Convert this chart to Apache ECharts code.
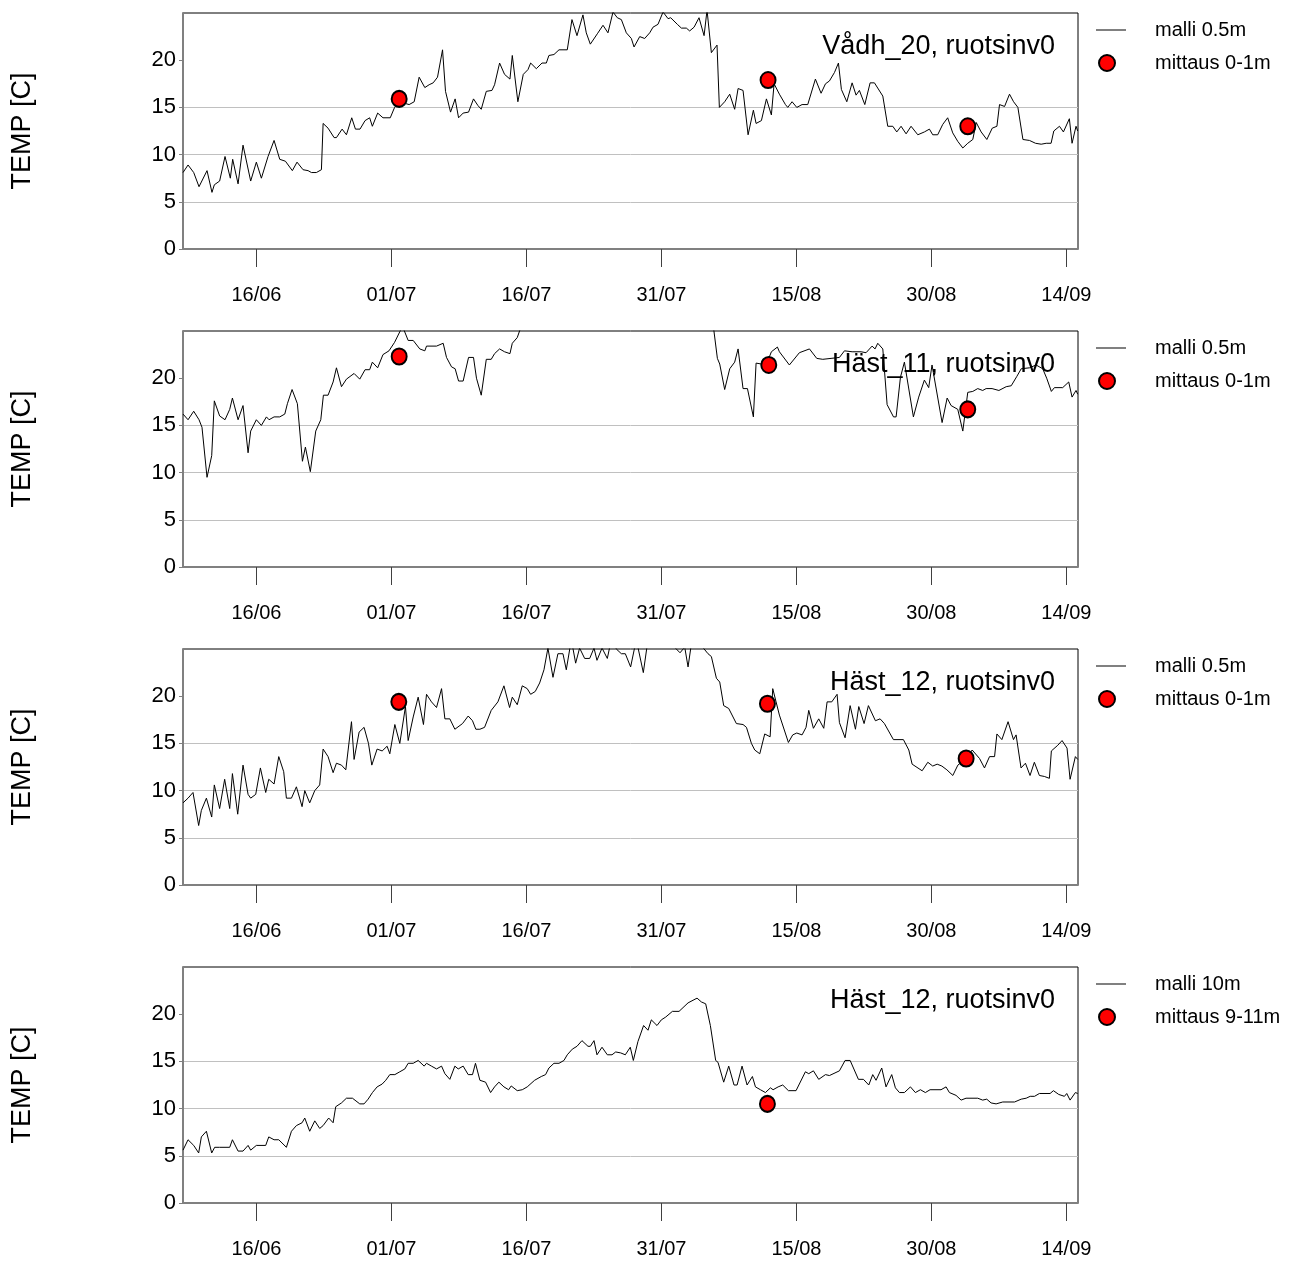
<!DOCTYPE html>
<html><head><meta charset="utf-8">
<script src="https://cdn.jsdelivr.net/npm/echarts@6/dist/echarts.min.js"></script>
<style>html,body{margin:0;padding:0;background:#fff}#c{width:1291px;height:1264px}</style>
</head><body><div id="c"></div>
<script>
// x values are days since 01/06
const startDate = Date.UTC(2009, 5, 1);
const xTickDays = [15, 30, 45, 60, 75, 90, 105];
const xRange = [6.84, 106.29];
const yTickValues = [0, 5, 10, 15, 20];
const yRange = [0, 25];
const panelTitles = ['Vådh_20, ruotsinv0', 'Häst_11, ruotsinv0', 'Häst_12, ruotsinv0', 'Häst_12, ruotsinv0'];
const modelNames = ['malli 0.5m', 'malli 0.5m', 'malli 0.5m', 'malli 10m'];
const obsNames = ['mittaus 0-1m', 'mittaus 0-1m', 'mittaus 0-1m', 'mittaus 9-11m'];
const yAxisName = 'TEMP [C]';

// Vådh_20, 0.5 m
const vadh20Days = [6.84,7.40,8.03,8.62,9.51,10.06,10.32,10.91,11.51,12.10,12.36,12.96,13.51,14.36,14.99,15.55,16.29,16.96,17.59,18.22,18.40,18.99,19.51,20.18,20.74,21.11,21.66,22.22,22.41,22.96,23.63,23.89,24.52,25.00,25.59,26.00,26.51,27.07,27.58,27.88,28.47,29.06,29.87,30.35,30.86,31.97,32.53,33.08,33.71,34.19,34.64,35.12,35.68,36.01,36.57,37.08,37.46,37.97,38.57,39.12,39.61,39.98,40.54,41.17,41.46,42.02,42.57,43.17,43.43,44.05,44.65,45.17,45.47,46.10,46.73,47.21,47.50,48.06,48.62,49.54,50.06,50.62,51.28,51.65,52.10,52.88,53.51,54.06,54.62,55.10,55.55,56.10,56.66,56.96,57.59,58.14,58.70,59.07,59.62,60.18,60.74,61.03,61.77,62.22,62.77,63.14,63.63,64.18,64.74,65.07,65.55,66.18,66.44,67.03,67.59,68.14,68.52,69.07,69.63,70.22,70.52,71.11,71.67,72.22,72.52,72.74,73.11,73.78,74.04,74.52,75.04,75.63,76.26,77.11,77.74,78.23,78.67,79.23,79.67,80.00,80.60,81.19,81.63,82.00,82.60,83.19,83.67,84.60,85.15,85.71,86.15,86.63,87.19,87.74,88.49,89.22,89.78,90.15,90.70,91.26,91.81,92.37,92.93,93.49,94.04,94.60,94.98,95.53,96.16,96.76,97.28,97.57,98.13,98.68,99.13,99.61,100.17,100.90,101.57,102.20,102.76,103.30,103.60,104.23,104.67,105.33,105.63,106.07,106.26];
const vadh20Temp = [8.1,8.9,8.1,6.6,8.3,6.0,6.8,7.2,9.8,7.5,9.5,6.9,11.0,7.2,9.2,7.5,9.8,11.5,9.5,9.3,9.2,8.3,9.2,8.4,8.3,8.1,8.1,8.4,13.3,12.8,11.8,11.8,12.7,12.1,13.9,12.7,12.7,13.6,13.9,13.0,14.4,13.9,13.9,15.0,15.6,15.3,15.6,18.2,17.1,17.4,17.6,18.2,21.1,16.7,14.5,15.9,13.9,14.4,14.5,15.9,15.2,14.8,16.7,16.8,17.4,19.7,18.5,18.0,20.5,15.6,18.5,19.0,19.7,19.1,19.7,19.7,20.5,20.6,21.1,21.1,24.3,22.6,24.8,22.9,21.7,22.8,23.7,22.9,25.1,24.5,24.3,22.9,22.3,21.4,22.5,22.3,22.9,23.5,23.8,25.1,24.4,24.5,23.8,23.4,23.4,23.1,23.5,24.5,22.6,25.3,20.8,21.6,15.0,15.6,16.4,14.8,17.0,16.8,12.1,14.7,13.3,13.6,15.9,14.2,17.5,17.3,16.4,15.3,15.0,15.6,15.0,15.3,15.3,18.0,16.5,17.5,17.8,18.7,19.7,16.9,15.6,17.6,16.3,16.8,15.3,17.6,17.6,16.2,13.0,13.0,12.4,13.0,12.2,13.0,12.1,12.4,12.7,12.1,12.1,13.2,13.9,12.3,11.4,10.7,11.2,11.6,13.4,12.4,11.6,12.8,13.0,15.3,15.1,16.4,15.6,15.0,11.6,11.5,11.2,11.1,11.2,11.2,12.5,13.0,12.4,13.8,11.2,13.0,12.5];
const vadh20ObsDays = [30.86, 71.85, 94.04];
const vadh20ObsTemp = [15.9, 17.9, 13.0];

// Häst_11, 0.5 m
const hast11Days = [6.84,7.40,8.03,8.62,8.95,9.51,10.03,10.32,10.91,11.51,12.03,12.33,12.96,13.51,14.07,14.36,14.99,15.55,16.11,16.40,16.96,17.59,18.15,18.44,18.96,19.55,20.11,20.44,20.99,21.59,22.15,22.44,22.96,23.52,23.89,24.45,25.00,25.85,26.48,27.07,27.58,27.88,28.47,29.06,29.73,30.35,31.23,31.86,32.42,33.15,33.71,33.90,35.01,35.75,36.12,36.68,37.08,37.46,37.97,38.57,39.12,39.45,39.98,40.54,41.09,41.46,42.02,42.57,43.17,43.43,43.98,44.35,45.5,48.0,52.0,57.0,61.0,64.5,65.81,66.22,66.48,67.03,67.59,68.14,68.52,69.07,69.56,70.22,70.52,71.11,71.60,72.22,72.89,73.11,74.22,75.33,76.45,77.26,77.93,78.85,79.78,80.34,81.19,82.19,82.74,83.41,83.74,84.04,84.60,85.08,85.79,86.08,86.56,87.00,88.00,88.59,89.22,89.70,90.07,91.19,91.75,92.19,92.93,93.49,94.04,94.60,95.15,95.70,96.08,96.74,97.50,98.31,98.87,99.50,99.98,100.90,101.63,102.37,102.81,103.33,103.67,104.59,105.26,105.63,106.07,106.26];
const hast11Temp = [16.2,15.6,16.5,15.6,14.8,9.5,11.8,17.6,16.0,15.6,16.7,17.9,15.6,17.1,12.1,14.4,15.6,15.0,15.9,15.6,15.9,15.9,16.2,17.3,18.8,17.3,11.2,12.7,10.1,14.4,15.6,18.2,18.2,19.6,21.1,19.1,19.9,20.5,19.9,20.9,20.9,21.7,21.1,22.5,22.9,23.8,25.5,24.0,24.0,23.1,22.9,23.4,23.4,23.7,22.2,21.2,21.0,19.7,19.7,22.2,22.2,20.0,18.2,22.0,22.0,22.6,23.1,22.8,22.6,23.7,24.3,25.3,27.0,28.5,28.0,28.5,28.0,27.0,25.2,22.1,21.5,18.8,21.0,21.7,23.1,18.9,18.9,15.9,21.6,21.5,21.3,22.8,23.3,22.8,21.4,22.7,23.1,22.1,22.0,22.1,22.2,22.9,22.8,22.8,22.7,23.4,23.1,23.7,23.1,17.2,15.9,15.9,20.1,21.7,15.9,18.0,19.8,19.0,21.4,15.3,17.9,17.1,16.7,14.4,18.5,18.6,18.9,18.7,18.9,18.9,18.7,19.1,19.2,20.2,21.0,21.1,21.4,21.0,20.0,18.6,19.0,19.0,19.6,18.0,18.7,18.3];
const hast11ObsDays = [30.86, 71.93, 94.04];
const hast11ObsTemp = [22.3, 21.4, 16.7];

// Häst_12, 0.5 m
const hast12Days = [6.84,7.40,7.95,8.58,8.88,9.44,10.03,10.32,10.91,11.47,12.03,12.33,12.92,13.51,14.07,14.36,14.92,15.44,16.03,16.37,16.96,17.48,18.03,18.33,18.89,19.44,20.07,20.37,20.92,21.48,22.03,22.41,22.96,23.52,23.89,24.45,24.93,25.56,25.85,26.41,26.96,27.45,27.82,28.41,28.97,29.52,29.82,30.38,30.93,31.56,31.86,32.42,32.97,33.56,33.90,34.45,35.01,35.57,35.94,36.49,37.05,37.90,38.53,39.01,39.38,39.83,40.35,41.09,41.83,42.50,43.13,43.43,43.98,44.54,45.09,45.47,45.98,46.47,46.95,47.39,47.95,48.50,49.06,49.43,49.99,50.47,50.91,51.47,52.03,52.51,52.84,53.40,53.99,54.43,54.99,55.55,55.99,56.58,57.21,57.99,58.51,59.50,60.50,61.55,62.07,62.59,62.96,63.40,64.00,64.66,65.18,65.55,66.11,66.48,66.92,67.48,68.33,69.07,69.45,70.00,70.37,70.93,71.48,72.08,72.37,72.74,73.11,74.11,74.59,75.04,75.63,76.07,76.37,76.89,77.48,78.04,78.41,78.93,79.52,79.78,80.41,80.97,81.56,81.93,82.52,83.00,83.78,84.30,84.78,85.78,86.89,87.49,87.86,88.97,89.60,90.15,90.64,91.16,91.72,92.38,92.94,93.86,94.53,95.35,95.90,96.46,97.02,97.28,97.83,98.52,99.12,99.41,99.96,100.45,100.96,101.44,102.00,102.55,103.11,103.33,104.04,104.52,105.07,105.41,106.00,106.26];
const hast12Temp = [8.7,9.2,9.8,6.3,7.9,9.2,7.2,10.6,8.1,11.2,8.1,11.8,7.5,12.7,9.6,9.2,9.6,12.4,9.8,11.2,10.7,13.6,12.0,9.2,9.2,10.4,8.3,10.0,8.7,10.0,10.6,14.4,13.6,11.9,12.9,12.7,12.2,17.3,13.3,16.2,16.7,15.0,12.7,14.4,14.2,14.7,13.9,17.0,15.0,18.9,15.3,17.8,19.9,17.0,20.2,19.4,18.8,20.8,17.6,17.6,16.5,17.1,17.9,17.4,16.5,16.5,16.7,18.5,19.4,21.1,18.8,19.9,19.1,21.1,20.8,20.2,20.5,21.4,22.8,25.1,22.0,24.5,24.5,22.8,26.0,23.5,25.1,24.0,24.0,25.1,23.8,25.1,24.0,26.0,25.0,24.5,24.5,23.1,26.0,22.5,26.0,26.5,26.2,25.1,24.6,25.2,23.1,26.0,26.0,25.1,24.5,24.2,21.9,21.5,19.0,18.7,17.1,17.0,16.7,15.0,14.3,13.9,16.0,15.7,20.8,19.4,18.0,15.1,15.9,16.1,15.9,16.7,18.5,16.6,17.6,16.6,19.4,19.4,20.2,17.2,15.6,19.0,16.5,18.9,17.1,19.0,17.4,17.6,17.1,15.4,15.4,14.3,12.8,12.1,13.0,12.6,12.8,12.6,12.2,11.6,12.7,13.4,14.3,13.4,12.4,13.6,13.6,16.0,15.4,17.3,15.4,15.9,12.4,12.9,11.6,13.0,11.6,11.5,11.3,14.2,14.8,15.3,14.5,11.2,13.6,13.3];
const hast12ObsDays = [30.82, 71.78, 93.86];
const hast12ObsTemp = [19.4, 19.2, 13.4];

// Häst_12, 10 m
const hast12DeepDays = [6.84,7.40,8.03,8.58,8.88,9.44,10.03,10.36,10.91,12.03,12.33,12.96,13.51,14.07,14.36,14.99,16.03,16.37,16.96,17.48,18.33,18.89,19.44,20.07,20.37,20.92,21.48,22.03,22.41,23.03,23.52,23.81,24.45,25.00,25.67,25.85,26.48,26.96,27.41,27.89,28.41,28.97,29.37,29.82,30.38,30.93,31.49,31.86,32.42,32.97,33.64,33.90,34.45,35.01,35.57,35.94,36.49,37.05,37.42,37.97,38.53,39.01,39.34,39.83,39.98,40.46,41.02,41.46,41.94,42.50,43.02,43.31,43.98,44.54,45.09,45.91,46.65,47.13,47.50,48.06,48.62,49.17,49.54,50.10,50.62,51.17,51.84,52.10,52.51,52.84,53.40,53.99,54.51,54.92,55.47,55.99,56.54,56.88,57.39,58.02,58.51,58.88,59.51,59.99,60.48,61.22,61.96,62.96,63.96,64.44,64.92,65.44,66.03,66.29,66.92,67.48,68.07,68.41,68.96,69.52,70.11,70.45,71.00,71.56,72.11,72.41,72.97,73.48,74.11,74.96,76.00,76.37,76.89,77.48,78.23,78.67,79.78,80.41,80.97,81.89,82.45,83.04,83.48,83.85,84.48,84.96,85.59,86.00,86.45,87.00,87.67,88.22,88.78,89.33,89.85,91.07,91.63,92.00,92.74,93.30,93.85,95.15,95.70,96.15,96.63,97.19,97.93,99.24,99.98,100.53,100.98,101.46,102.00,103.19,103.56,104.15,104.78,105.04,105.41,106.00,106.26];
const hast12DeepTemp = [5.6,6.7,6.1,5.3,7.0,7.6,5.3,5.9,5.9,5.9,6.7,5.5,5.5,6.1,5.6,6.1,6.1,7.0,6.7,6.7,5.9,7.6,8.2,8.5,9.0,7.6,8.7,7.9,8.2,9.0,8.5,10.2,10.6,11.1,11.1,11.3,10.5,10.5,11.0,11.7,12.3,12.6,13.0,13.6,13.6,13.9,14.2,14.8,14.8,15.1,14.5,14.8,14.5,14.2,14.5,13.7,13.1,14.5,14.2,14.5,13.6,13.6,14.8,13.0,12.8,12.8,11.7,12.3,12.8,12.3,12.0,12.4,11.9,12.0,12.3,13.0,13.4,13.6,14.3,14.8,14.8,15.1,15.7,16.3,16.6,17.2,16.6,16.6,17.2,15.7,16.5,15.7,15.7,16.0,15.9,15.7,16.5,15.1,17.1,18.8,18.3,19.4,18.8,19.4,19.7,20.3,20.3,21.2,21.7,21.3,21.1,18.8,15.1,14.9,12.8,14.5,12.5,12.5,14.5,12.5,13.4,12.3,12.0,11.7,12.2,12.0,12.3,12.5,11.9,11.9,13.9,13.7,14.0,13.1,13.6,13.5,14.0,15.1,15.1,13.1,13.1,12.5,13.6,13.0,14.3,12.3,13.6,12.2,11.7,11.7,12.3,11.7,12.0,11.7,12.0,12.0,12.3,11.7,11.4,10.9,11.1,11.1,10.9,11.0,10.6,10.5,10.7,10.7,11.0,11.1,11.3,11.3,11.6,11.6,11.9,11.5,11.3,11.6,10.9,11.7,11.6];
const hast12DeepObsDays = [71.78];
const hast12DeepObsTemp = [10.5];

const modelDays = [vadh20Days, hast11Days, hast12Days, hast12DeepDays];
const modelTemps = [vadh20Temp, hast11Temp, hast12Temp, hast12DeepTemp];
const obsDays = [vadh20ObsDays, hast11ObsDays, hast12ObsDays, hast12DeepObsDays];
const obsTemps = [vadh20ObsTemp, hast11ObsTemp, hast12ObsTemp, hast12DeepObsTemp];

const FONT = 'Liberation Sans, Arial, sans-serif';
const gridTops = [13, 331, 649, 967];
const gridH = 236;
const pad = n => (n < 10 ? '0' : '') + n;
const fmtDay = v => { const d = new Date(startDate + v * 86400000); return pad(d.getUTCDate()) + '/' + pad(d.getUTCMonth() + 1); };
const zip = (a, b) => a.map((x, i) => [x, b[i]]);

const grids = [], xAxes = [], yAxes = [], series = [], titles = [], legends = [];
for (let i = 0; i < 4; i++) {
  grids.push({ left: 183, right: 213, top: gridTops[i], height: gridH, show: true, borderColor: '#000', borderWidth: 1, backgroundColor: 'transparent' });
  xAxes.push({
    type: 'value', gridIndex: i, min: xRange[0], max: xRange[1],
    axisLine: { show: true, onZero: false, lineStyle: { color: '#808080', width: 2 } },
    axisTick: { show: true, inside: false, length: 18, customValues: xTickDays, lineStyle: { color: '#404040', width: 1 } },
    axisLabel: { show: true, customValues: xTickDays, formatter: fmtDay, margin: 36, color: '#000', fontFamily: FONT, fontSize: 20 },
    splitLine: { show: false }
  });
  yAxes.push({
    type: 'value', gridIndex: i, min: yRange[0], max: yRange[1], interval: 5,
    name: yAxisName, nameLocation: 'middle', nameGap: 147, nameRotate: 90,
    nameTextStyle: { color: '#000', fontFamily: FONT, fontSize: 27 },
    axisLine: { show: true, lineStyle: { color: '#808080', width: 2 } },
    axisTick: { show: true, length: 4, customValues: yTickValues, lineStyle: { color: '#808080' } },
    axisLabel: { show: true, customValues: yTickValues, margin: 7, color: '#000', fontFamily: FONT, fontSize: 22 },
    splitLine: { show: true, showMinLine: false, showMaxLine: false, lineStyle: { color: '#c0c0c0', width: 1 } }
  });
  series.push({
    type: 'line', name: modelNames[i], xAxisIndex: i, yAxisIndex: i,
    data: zip(modelDays[i], modelTemps[i]), symbol: 'none', clip: true,
    lineStyle: { color: '#000', width: 1 }, itemStyle: { color: '#000' }, animation: false
  });
  series.push({
    type: 'scatter', name: obsNames[i], xAxisIndex: i, yAxisIndex: i,
    data: zip(obsDays[i], obsTemps[i]), symbol: 'circle', symbolSize: [15, 16], z: 5,
    itemStyle: { color: '#ff0000', borderColor: '#000', borderWidth: 2, opacity: 1 }, animation: false
  });
  titles.push({
    text: panelTitles[i], right: 231, top: gridTops[i] + 15,
    textStyle: { color: '#000', fontFamily: FONT, fontSize: 27, fontWeight: 'normal' }, z: 10
  });
  legends.push({
    left: 1091, top: gridTops[i] + 2, orient: 'vertical', itemWidth: 30, itemHeight: 16,
    data: [{ name: modelNames[i], icon: 'path://M0,0H30V1H0Z' }],
    textStyle: { color: '#000', fontFamily: FONT, fontSize: 20, padding: [0, 0, 0, 24] },
    selectedMode: false
  });
  legends.push({
    left: 1093, top: gridTops[i] + 35, orient: 'vertical', itemWidth: 16, itemHeight: 16,
    data: [{ name: obsNames[i], icon: 'circle' }],
    textStyle: { color: '#000', fontFamily: FONT, fontSize: 20, padding: [0, 0, 0, 35] },
    selectedMode: false
  });
}

const chart = echarts.init(document.getElementById('c'), null, { renderer: 'canvas' });
chart.setOption({
  backgroundColor: '#fff', animation: false,
  title: titles, legend: legends, grid: grids, xAxis: xAxes, yAxis: yAxes, series: series,
  tooltip: { show: false }
});
</script></body></html>
